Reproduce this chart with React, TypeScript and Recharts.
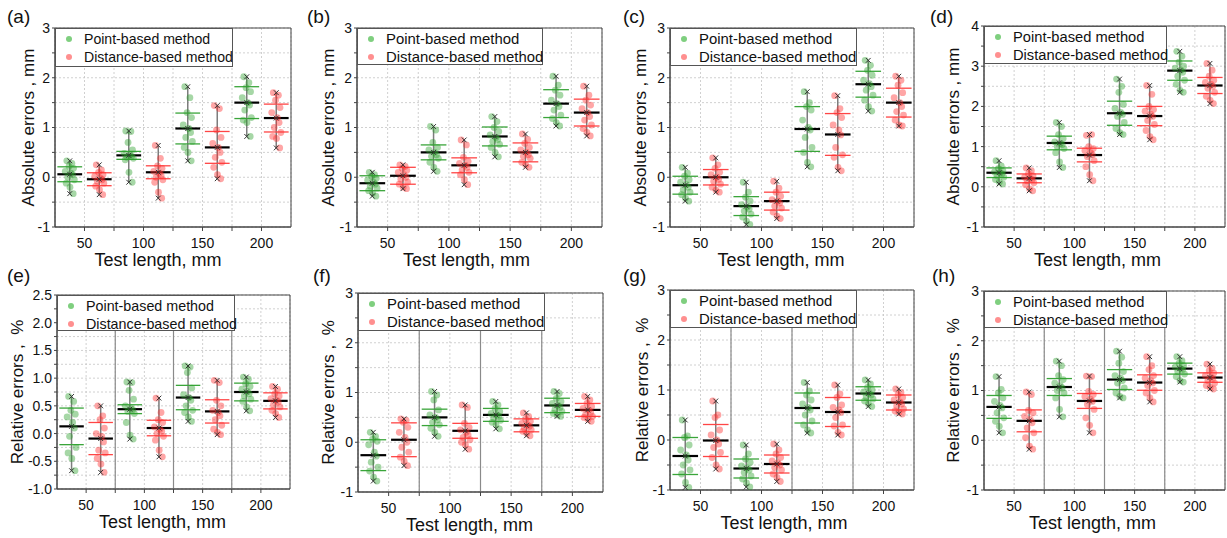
import React from 'react';
import {
  ComposedChart,
  Scatter,
  XAxis,
  YAxis,
  CartesianGrid,
  ReferenceLine,
  ReferenceArea,
  Legend,
} from 'recharts';

const FONT = '"Liberation Sans", Arial, Helvetica, sans-serif';

// test lengths (mm); point-based group sits left of the tick, distance-based right
const LENGTHS = [50, 100, 150, 200];
const X_TICKS = [50, 75, 100, 125, 150, 175, 200];
// horizontal spread of the dots inside a group (x units)
const JITTER = [-2.5, 1.8, -0.6, 3.2, -3.8, 0.9, 2.4, -1.7, 3.9, -3.0, 0.2, 2.9];

const TICKS_ABS = [-1, -0.5, 0, 0.5, 1, 1.5, 2, 2.5, 3];
const TICKS_D = [-1, -0.5, 0, 0.5, 1, 1.5, 2, 2.5, 3, 3.5, 4];
const TICKS_E = [-1, -0.75, -0.5, -0.25, 0, 0.25, 0.5, 0.75, 1, 1.25, 1.5, 1.75, 2, 2.25, 2.5];

// ---------- (a) absolute errors ----------
const A_POINT = [
  [0.33, 0.28, 0.22, 0.18, 0.12, 0.08, 0.05, 0.0, -0.05, -0.12, -0.2, -0.33],
  [0.93, 0.92, 0.7, 0.55, 0.48, 0.45, 0.42, 0.4, 0.38, 0.35, 0.1, -0.1],
  [1.82, 1.6, 1.3, 1.2, 1.05, 0.98, 0.9, 0.8, 0.72, 0.6, 0.5, 0.33],
  [2.02, 1.9, 1.8, 1.72, 1.6, 1.5, 1.45, 1.35, 1.2, 1.15, 1.1, 0.82],
];
const A_DIST = [
  [0.25, 0.15, 0.1, 0.05, 0.02, -0.02, -0.05, -0.08, -0.12, -0.18, -0.25, -0.35],
  [0.64, 0.38, 0.23, 0.18, 0.12, 0.08, 0.04, 0.0, -0.05, -0.1, -0.3, -0.42],
  [1.44, 1.38, 0.95, 0.8, 0.68, 0.6, 0.5, 0.4, 0.3, 0.2, 0.05, -0.03],
  [1.7, 1.65, 1.55, 1.4, 1.3, 1.2, 1.1, 1.0, 0.9, 0.82, 0.78, 0.59],
];
const A_POINT_MEAN = [0.06, 0.44, 0.98, 1.5];
const A_POINT_SD = [0.15, 0.08, 0.31, 0.32];
const A_DIST_MEAN = [-0.04, 0.1, 0.6, 1.19];
const A_DIST_SD = [0.13, 0.13, 0.32, 0.28];

// ---------- (b) ----------
const B_POINT = [
  [0.1, 0.05, 0.02, -0.02, -0.06, -0.1, -0.14, -0.18, -0.22, -0.27, -0.32, -0.38],
  [1.02, 0.95, 0.7, 0.6, 0.55, 0.5, 0.45, 0.42, 0.38, 0.3, 0.2, 0.12],
  [1.22, 1.12, 1.0, 0.92, 0.85, 0.8, 0.76, 0.72, 0.66, 0.6, 0.5, 0.41],
  [2.03, 1.85, 1.75, 1.65, 1.55, 1.48, 1.42, 1.35, 1.25, 1.18, 1.1, 1.03],
];
const B_DIST = [
  [0.25, 0.22, 0.18, 0.14, 0.1, 0.05, 0.0, -0.04, -0.1, -0.14, -0.2, -0.23],
  [0.75, 0.65, 0.4, 0.32, 0.28, 0.24, 0.2, 0.15, 0.1, 0.05, -0.05, -0.15],
  [0.87, 0.76, 0.68, 0.6, 0.55, 0.5, 0.45, 0.42, 0.38, 0.3, 0.25, 0.2],
  [1.83, 1.65, 1.55, 1.45, 1.38, 1.3, 1.22, 1.15, 1.05, 0.98, 0.9, 0.83],
];
const B_POINT_MEAN = [-0.12, 0.5, 0.82, 1.48];
const B_POINT_SD = [0.15, 0.15, 0.19, 0.28];
const B_DIST_MEAN = [0.03, 0.24, 0.5, 1.3];
const B_DIST_SD = [0.17, 0.15, 0.19, 0.27];

// ---------- (c) ----------
const C_POINT = [
  [0.2, 0.08, 0.02, -0.05, -0.1, -0.15, -0.2, -0.25, -0.3, -0.35, -0.42, -0.48],
  [-0.1, -0.3, -0.4, -0.48, -0.55, -0.6, -0.64, -0.68, -0.74, -0.8, -0.88, -0.95],
  [1.72, 1.5, 1.42, 1.35, 1.15, 1.0, 0.95, 0.8, 0.6, 0.5, 0.3, 0.21],
  [2.35, 2.25, 2.15, 2.05, 1.95, 1.88, 1.82, 1.75, 1.65, 1.55, 1.42, 1.33],
];
const C_DIST = [
  [0.39, 0.25, 0.18, 0.1, 0.05, 0.0, -0.04, -0.08, -0.14, -0.2, -0.26, -0.3],
  [-0.08, -0.22, -0.3, -0.38, -0.45, -0.48, -0.52, -0.58, -0.62, -0.7, -0.78, -0.83],
  [1.64, 1.38, 1.3, 1.2, 1.05, 0.95, 0.85, 0.6, 0.45, 0.4, 0.2, 0.13],
  [2.03, 1.95, 1.85, 1.7, 1.6, 1.5, 1.42, 1.32, 1.25, 1.15, 1.05, 1.03],
];
const C_POINT_MEAN = [-0.16, -0.58, 0.97, 1.87];
const C_POINT_SD = [0.18, 0.19, 0.45, 0.26];
const C_DIST_MEAN = [0.0, -0.48, 0.86, 1.5];
const C_DIST_SD = [0.155, 0.18, 0.42, 0.29];

// ---------- (d) ----------
const D_POINT = [
  [0.65, 0.52, 0.45, 0.4, 0.37, 0.35, 0.32, 0.28, 0.24, 0.18, 0.12, 0.07],
  [1.6, 1.5, 1.3, 1.2, 1.12, 1.08, 1.05, 1.0, 0.95, 0.85, 0.62, 0.48],
  [2.68, 2.5, 2.35, 2.05, 1.95, 1.85, 1.8, 1.75, 1.6, 1.45, 1.35, 1.3],
  [3.37, 3.25, 3.1, 3.0, 2.95, 2.9, 2.85, 2.75, 2.65, 2.55, 2.4, 2.35],
];
const D_DIST = [
  [0.47, 0.4, 0.32, 0.27, 0.24, 0.21, 0.18, 0.15, 0.1, 0.05, -0.05, -0.1],
  [1.28, 1.3, 1.0, 0.95, 0.9, 0.85, 0.8, 0.75, 0.65, 0.5, 0.3, 0.15],
  [2.52, 2.3, 2.0, 1.92, 1.88, 1.8, 1.75, 1.65, 1.55, 1.4, 1.25, 1.17],
  [3.07, 2.9, 2.75, 2.65, 2.6, 2.55, 2.5, 2.45, 2.35, 2.25, 2.15, 2.07],
];
const D_POINT_MEAN = [0.35, 1.09, 1.83, 2.89];
const D_POINT_SD = [0.12, 0.17, 0.3, 0.24];
const D_DIST_MEAN = [0.21, 0.79, 1.76, 2.52];
const D_DIST_SD = [0.11, 0.17, 0.24, 0.2];

// ---------- (e) relative errors ----------
const E_POINT = [
  [0.67, 0.58, 0.42, 0.35, 0.3, 0.2, 0.1, -0.05, -0.25, -0.35, -0.45, -0.67],
  [0.93, 0.92, 0.78, 0.62, 0.5, 0.46, 0.43, 0.4, 0.36, 0.2, -0.03, -0.1],
  [1.22, 1.2, 1.1, 0.82, 0.7, 0.65, 0.6, 0.5, 0.42, 0.38, 0.3, 0.22],
  [1.02, 0.98, 0.9, 0.85, 0.8, 0.76, 0.72, 0.68, 0.62, 0.58, 0.48, 0.41],
];
const E_DIST = [
  [0.5, 0.32, 0.25, 0.1, 0.0, -0.05, -0.15, -0.3, -0.35, -0.45, -0.55, -0.7],
  [0.64, 0.38, 0.25, 0.2, 0.12, 0.08, 0.04, 0.0, -0.05, -0.12, -0.3, -0.42],
  [0.96, 0.92, 0.6, 0.5, 0.42, 0.38, 0.32, 0.25, 0.15, 0.08, 0.02, -0.02],
  [0.85, 0.8, 0.72, 0.68, 0.63, 0.6, 0.57, 0.52, 0.48, 0.42, 0.36, 0.29],
];
const E_POINT_MEAN = [0.13, 0.44, 0.65, 0.75];
const E_POINT_SD = [0.33, 0.08, 0.22, 0.16];
const E_DIST_MEAN = [-0.09, 0.1, 0.4, 0.59];
const E_DIST_SD = [0.29, 0.14, 0.21, 0.145];

// ---------- (f) ----------
const F_POINT = [
  [0.2, 0.12, 0.06, 0.02, -0.05, -0.2, -0.28, -0.4, -0.5, -0.58, -0.7, -0.78],
  [1.02, 0.95, 0.85, 0.65, 0.55, 0.5, 0.45, 0.4, 0.35, 0.28, 0.2, 0.12],
  [0.82, 0.75, 0.68, 0.62, 0.58, 0.55, 0.52, 0.48, 0.44, 0.4, 0.35, 0.27],
  [1.02, 0.98, 0.88, 0.82, 0.78, 0.74, 0.7, 0.66, 0.62, 0.58, 0.55, 0.52],
];
const F_DIST = [
  [0.47, 0.44, 0.4, 0.3, 0.2, 0.1, 0.0, -0.1, -0.2, -0.3, -0.38, -0.47],
  [0.75, 0.7, 0.38, 0.3, 0.25, 0.2, 0.15, 0.1, 0.05, 0.0, -0.05, -0.14],
  [0.59, 0.52, 0.46, 0.42, 0.38, 0.35, 0.32, 0.28, 0.25, 0.22, 0.18, 0.13],
  [0.92, 0.85, 0.78, 0.72, 0.68, 0.65, 0.6, 0.56, 0.52, 0.5, 0.46, 0.42],
];
const F_POINT_MEAN = [-0.26, 0.5, 0.55, 0.74];
const F_POINT_SD = [0.31, 0.165, 0.13, 0.145];
const F_DIST_MEAN = [0.05, 0.23, 0.34, 0.65];
const F_DIST_SD = [0.34, 0.15, 0.13, 0.13];

// ---------- (g) ----------
const G_POINT = [
  [0.4, 0.08, 0.05, -0.1, -0.2, -0.3, -0.4, -0.5, -0.6, -0.68, -0.85, -0.95],
  [-0.1, -0.28, -0.38, -0.45, -0.52, -0.56, -0.6, -0.65, -0.72, -0.78, -0.86, -0.94],
  [1.15, 0.98, 0.9, 0.8, 0.72, 0.65, 0.6, 0.5, 0.38, 0.3, 0.2, 0.14],
  [1.2, 1.12, 1.05, 1.0, 0.96, 0.93, 0.9, 0.86, 0.82, 0.78, 0.72, 0.67],
];
const G_DIST = [
  [0.78, 0.5, 0.45, 0.2, 0.1, 0.0, -0.08, -0.15, -0.25, -0.35, -0.5, -0.58],
  [-0.08, -0.2, -0.28, -0.35, -0.42, -0.46, -0.5, -0.55, -0.6, -0.68, -0.75, -0.83],
  [1.1, 0.92, 0.85, 0.7, 0.65, 0.6, 0.55, 0.45, 0.3, 0.28, 0.15, 0.1],
  [1.02, 0.95, 0.9, 0.85, 0.8, 0.76, 0.72, 0.68, 0.62, 0.58, 0.55, 0.52],
];
const G_POINT_MEAN = [-0.32, -0.57, 0.64, 0.93];
const G_POINT_SD = [0.37, 0.19, 0.3, 0.135];
const G_DIST_MEAN = [-0.01, -0.48, 0.56, 0.75];
const G_DIST_SD = [0.32, 0.18, 0.29, 0.15];

// ---------- (h) ----------
const H_POINT = [
  [1.28, 1.02, 0.95, 0.85, 0.78, 0.7, 0.65, 0.55, 0.45, 0.38, 0.28, 0.15],
  [1.59, 1.5, 1.3, 1.22, 1.15, 1.1, 1.05, 1.0, 0.95, 0.85, 0.62, 0.47],
  [1.79, 1.67, 1.55, 1.38, 1.3, 1.25, 1.2, 1.15, 1.05, 0.95, 0.88, 0.85],
  [1.68, 1.6, 1.55, 1.5, 1.47, 1.44, 1.42, 1.38, 1.33, 1.28, 1.2, 1.17],
];
const H_DIST = [
  [0.97, 0.92, 0.6, 0.55, 0.48, 0.42, 0.35, 0.25, 0.15, 0.05, -0.12, -0.18],
  [1.29, 1.28, 0.98, 0.92, 0.88, 0.82, 0.78, 0.72, 0.62, 0.45, 0.3, 0.15],
  [1.68, 1.5, 1.42, 1.3, 1.25, 1.2, 1.15, 1.1, 1.0, 0.95, 0.85, 0.77],
  [1.53, 1.45, 1.4, 1.35, 1.3, 1.27, 1.24, 1.2, 1.15, 1.1, 1.06, 1.03],
];
const H_POINT_MEAN = [0.67, 1.07, 1.22, 1.44];
const H_POINT_SD = [0.23, 0.17, 0.2, 0.11];
const H_DIST_MEAN = [0.39, 0.79, 1.16, 1.26];
const H_DIST_SD = [0.22, 0.15, 0.155, 0.095];

const ABS_TITLE = 'Absolute errors , mm';
const REL_TITLE = 'Relative errors ,\u00a0 %';

const GREEN = '#2ca02c';
const RED = '#ff2a2a';

interface PanelSpec {
  tag: string;
  point: number[][];
  dist: number[][];
  pointMean: number[];
  pointSd: number[];
  distMean: number[];
  distSd: number[];
  yDomain: [number, number];
  yTicks: number[];
  yMajor: number;
  yTitle: string;
  // plot rectangle on the page
  l: number;
  t: number;
  r: number;
  b: number;
  legendW: number;
  legendH: number;
  legendFont: number;
  titleDx: number;
  yTitleGap: number;
  bottomRow: boolean;
}

const PANELS: PanelSpec[] = [
  { tag: '(a)', point: A_POINT, dist: A_DIST, pointMean: A_POINT_MEAN, pointSd: A_POINT_SD, distMean: A_DIST_MEAN, distSd: A_DIST_SD,
    yDomain: [-1, 3], yTicks: TICKS_ABS, yMajor: 1, yTitle: ABS_TITLE, l: 55, t: 28, r: 291, b: 227,
    legendW: 178, legendH: 39, legendFont: 14.1, titleDx: -15, yTitleGap: 27, bottomRow: false },
  { tag: '(b)', point: B_POINT, dist: B_DIST, pointMean: B_POINT_MEAN, pointSd: B_POINT_SD, distMean: B_DIST_MEAN, distSd: B_DIST_SD,
    yDomain: [-1, 3], yTicks: TICKS_ABS, yMajor: 1, yTitle: ABS_TITLE, l: 357, t: 28, r: 602, b: 227,
    legendW: 186, legendH: 37, legendFont: 14.9, titleDx: -13, yTitleGap: 29, bottomRow: false },
  { tag: '(c)', point: C_POINT, dist: C_DIST, pointMean: C_POINT_MEAN, pointSd: C_POINT_SD, distMean: C_DIST_MEAN, distSd: C_DIST_SD,
    yDomain: [-1, 3], yTicks: TICKS_ABS, yMajor: 1, yTitle: ABS_TITLE, l: 670, t: 28, r: 914, b: 227,
    legendW: 187, legendH: 38, legendFont: 14.9, titleDx: -11, yTitleGap: 30, bottomRow: false },
  { tag: '(d)', point: D_POINT, dist: D_DIST, pointMean: D_POINT_MEAN, pointSd: D_POINT_SD, distMean: D_DIST_MEAN, distSd: D_DIST_SD,
    yDomain: [-1, 4], yTicks: TICKS_D, yMajor: 1, yTitle: ABS_TITLE, l: 984, t: 26, r: 1225, b: 227,
    legendW: 183, legendH: 38, legendFont: 14.7, titleDx: -7, yTitleGap: 31, bottomRow: false },
  { tag: '(e)', point: E_POINT, dist: E_DIST, pointMean: E_POINT_MEAN, pointSd: E_POINT_SD, distMean: E_DIST_MEAN, distSd: E_DIST_SD,
    yDomain: [-1, 2.5], yTicks: TICKS_E, yMajor: 0.5, yTitle: REL_TITLE, l: 57, t: 295, r: 290, b: 489,
    legendW: 178, legendH: 36, legendFont: 14.3, titleDx: -11, yTitleGap: 40, bottomRow: true },
  { tag: '(f)', point: F_POINT, dist: F_DIST, pointMean: F_POINT_MEAN, pointSd: F_POINT_SD, distMean: F_DIST_MEAN, distSd: F_DIST_SD,
    yDomain: [-1, 3], yTicks: TICKS_ABS, yMajor: 1, yTitle: REL_TITLE, l: 358, t: 293, r: 603, b: 492,
    legendW: 187, legendH: 38, legendFont: 14.9, titleDx: -11, yTitleGap: 30, bottomRow: true },
  { tag: '(g)', point: G_POINT, dist: G_DIST, pointMean: G_POINT_MEAN, pointSd: G_POINT_SD, distMean: G_DIST_MEAN, distSd: G_DIST_SD,
    yDomain: [-1, 3], yTicks: TICKS_ABS, yMajor: 1, yTitle: REL_TITLE, l: 670, t: 290, r: 914, b: 490,
    legendW: 187, legendH: 38, legendFont: 14.9, titleDx: -8, yTitleGap: 28, bottomRow: true },
  { tag: '(h)', point: H_POINT, dist: H_DIST, pointMean: H_POINT_MEAN, pointSd: H_POINT_SD, distMean: H_DIST_MEAN, distSd: H_DIST_SD,
    yDomain: [-1, 3], yTicks: TICKS_ABS, yMajor: 1, yTitle: REL_TITLE, l: 984, t: 291, r: 1225, b: 490,
    legendW: 183, legendH: 37, legendFont: 14.7, titleDx: -12, yTitleGap: 31, bottomRow: true },
];

const Y_W = 60; // y-axis area width
const TOP = 30; // space above plot
const X_H = 50; // x-axis area height
const HALF = 10.5; // half width of mean / sd bars, x units

const Dot = (color: string) => (props: any) =>
  <circle cx={props.cx} cy={props.cy} r={3.4} fill={color} fillOpacity={0.42} />;

const XMark = (props: any) => {
  const { cx, cy } = props;
  const s = 2.4;
  return (
    <g stroke="#333" strokeWidth={1}>
      <line x1={cx - s} y1={cy - s} x2={cx + s} y2={cy + s} />
      <line x1={cx - s} y1={cy + s} x2={cx + s} y2={cy - s} />
    </g>
  );
};

function ErrorPanel({ p }: { p: PanelSpec }) {
  const plotW = p.r - p.l;
  const plotH = p.b - p.t;
  const W = Y_W + plotW + 2;
  const H = TOP + plotH + X_H;

  const toPts = (rows: number[][], side: number) =>
    LENGTHS.flatMap((len, k) => rows[k].map((y, i) => ({ x: len + side * 12.5 + JITTER[i], y })));
  const toStats = (rows: number[][], mean: number[], sd: number[], side: number, color: string) =>
    LENGTHS.map((len, k) => ({
      c: len + side * 12.5,
      mean: mean[k],
      sd: sd[k],
      min: Math.min(...rows[k]),
      max: Math.max(...rows[k]),
      color,
    }));

  const pointPts = toPts(p.point, -1);
  const distPts = toPts(p.dist, 1);
  const groups = [
    ...toStats(p.point, p.pointMean, p.pointSd, -1, '#3aa53a'),
    ...toStats(p.dist, p.distMean, p.distSd, 1, '#ff4545'),
  ];
  const marks = groups.flatMap((g) => [
    { x: g.c, y: g.min },
    { x: g.c, y: g.max },
    { x: g.c, y: g.mean },
  ]);

  const isMajor = (v: number) => Math.abs(v / p.yMajor - Math.round(v / p.yMajor)) < 1e-9;
  const yFmt = (v: number) => (isMajor(v) ? (p.yMajor < 1 ? v.toFixed(1) : String(v)) : '');
  const xFmt = (v: number) => (v % 50 === 0 ? String(v) : '');

  const legend = () => (
    <div
      style={{
        width: p.legendW,
        height: p.legendH,
        boxSizing: 'border-box',
        border: '1px solid #555',
        background: '#fff',
        fontFamily: FONT,
        fontSize: p.legendFont,
        color: '#111',
        position: 'relative',
      }}
    >
      {[
        { label: 'Point-based method', color: '#7fcf7f', top: 1 },
        { label: 'Distance-based method', color: '#ff8f8f', top: 19 },
      ].map((it) => (
        <div key={it.label} style={{ position: 'absolute', left: 0, top: it.top, height: 18, lineHeight: '18px', whiteSpace: 'nowrap' }}>
          <span style={{ position: 'absolute', left: 10, top: 6, width: 6, height: 6, borderRadius: 3, background: it.color }} />
          <span style={{ position: 'absolute', left: 28 }}>{it.label}</span>
        </div>
      ))}
    </div>
  );

  const yMid = TOP + plotH / 2;
  const yTitleX = Y_W - p.yTitleGap;

  return (
    <div style={{ position: 'absolute', left: p.l - Y_W, top: p.t - TOP, width: W, height: H }}>
      <ComposedChart width={W} height={H} margin={{ top: TOP, right: 2, bottom: 0, left: 0 }}>
        <CartesianGrid stroke="#c4c4c4" strokeDasharray="2 2" strokeWidth={0.8} />
        <XAxis
          type="number"
          dataKey="x"
          domain={[25, 225]}
          ticks={X_TICKS}
          tickFormatter={xFmt}
          height={X_H}
          allowDataOverflow
          interval={0}
          stroke="#444"
          tickSize={4}
          tickMargin={7}
          fontSize={14}
          fontFamily={FONT}
          tick={{ fontSize: 14, fill: '#111', fontFamily: FONT }}
          label={() => (
            <text
              x={Y_W + plotW / 2 + p.titleDx}
              y={TOP + plotH + 39}
              textAnchor="middle"
              fontSize={18}
              fontFamily={FONT}
              fill="#111"
            >
              Test length, mm
            </text>
          )}
        />
        <YAxis
          type="number"
          dataKey="y"
          domain={p.yDomain}
          ticks={p.yTicks}
          tickFormatter={yFmt}
          interval={0}
          width={Y_W}
          allowDataOverflow
          stroke="#444"
          tickSize={3}
          tickMargin={2}
          fontSize={14}
          fontFamily={FONT}
          tick={{ fontSize: 14, fill: '#111', fontFamily: FONT }}
          label={() => (
            <text
              x={yTitleX}
              y={yMid}
              transform={`rotate(-90 ${yTitleX} ${yMid})`}
              textAnchor="middle"
              dominantBaseline="central"
              fontSize={17}
              fontFamily={FONT}
              fill="#111"
              style={{ whiteSpace: 'pre' }}
            >
              {p.yTitle}
            </text>
          )}
        />
        {p.bottomRow &&
          [75, 125, 175].map((x) => (
            <ReferenceLine key={`sep${x}`} x={x} stroke="#8a8a8a" strokeWidth={1.2} />
          ))}
        <ReferenceArea x1={25} x2={225} y1={p.yDomain[0]} y2={p.yDomain[1]} fill="none" fillOpacity={0} stroke="#444" strokeWidth={1} />
        {groups.map((g, i) => (
          <ReferenceLine
            key={`w${i}`}
            segment={[{ x: g.c, y: g.min }, { x: g.c, y: g.max }]}
            stroke="#7d7d7d"
            strokeWidth={1.5}
          />
        ))}
        <Scatter data={pointPts} shape={Dot(GREEN)} isAnimationActive={false} legendType="circle" name="Point-based method" />
        <Scatter data={distPts} shape={Dot(RED)} isAnimationActive={false} legendType="circle" name="Distance-based method" />
        {groups.map((g, i) => (
          <ReferenceLine
            key={`su${i}`}
            segment={[{ x: g.c - HALF, y: g.mean + g.sd }, { x: g.c + HALF, y: g.mean + g.sd }]}
            stroke={g.color}
            strokeWidth={1.3}
          />
        ))}
        {groups.map((g, i) => (
          <ReferenceLine
            key={`sl${i}`}
            segment={[{ x: g.c - HALF, y: g.mean - g.sd }, { x: g.c + HALF, y: g.mean - g.sd }]}
            stroke={g.color}
            strokeWidth={1.3}
          />
        ))}
        {groups.map((g, i) => (
          <ReferenceLine
            key={`m${i}`}
            segment={[{ x: g.c - HALF, y: g.mean }, { x: g.c + HALF, y: g.mean }]}
            stroke="#000"
            strokeWidth={2.2}
          />
        ))}
        <Scatter data={marks} shape={XMark} isAnimationActive={false} legendType="none" />
        <Legend
          content={legend}
          layout="horizontal"
          verticalAlign="middle"
          align="center"
          wrapperStyle={{ left: Y_W, top: TOP, width: p.legendW, height: p.legendH }}
        />
      </ComposedChart>
    </div>
  );
}

const App: React.FC = () => (
  <div style={{ position: 'absolute', left: 0, top: 0, width: 1227, height: 538, background: '#fff', fontFamily: FONT }}>
    {PANELS.map((p) => (
      <ErrorPanel key={p.tag} p={p} />
    ))}
    {PANELS.map((p, i) => (
      <div
        key={`tag${p.tag}`}
        style={{
          position: 'absolute',
          left: [7, 307, 623, 930, 7, 313, 623, 932][i],
          top: p.bottomRow ? 266 : 7,
          fontSize: 19,
          lineHeight: '20px',
          color: '#111',
        }}
      >
        {p.tag}
      </div>
    ))}
  </div>
);

export default App;
